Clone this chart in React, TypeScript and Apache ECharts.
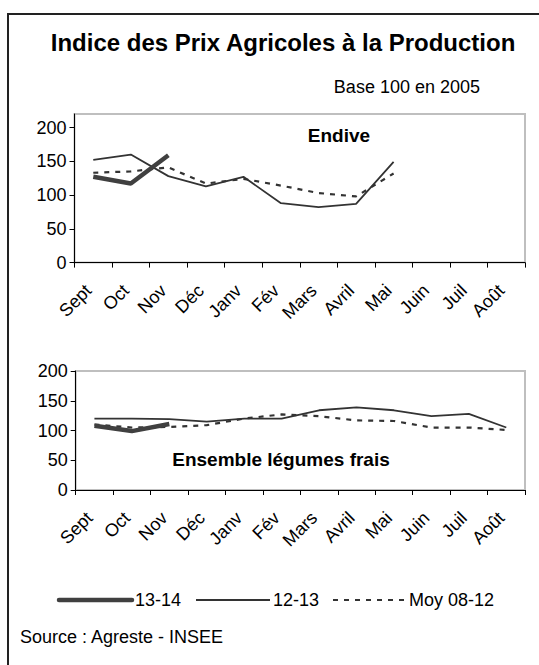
import React, { useEffect, useRef } from "react";
import * as echarts from "echarts";

const months = ["Sept", "Oct", "Nov", "Déc", "Janv", "Fév", "Mars", "Avril", "Mai", "Juin", "Juil", "Août"];
const seriesNames = ["13-14", "12-13", "Moy 08-12"];

const endive1314 = [127, 117, 159, null, null, null, null, null, null, null, null, null];
const endive1213 = [152, 160, 128, 113, 127, 88, 82, 87, 149, null, null, null];
const endiveMoy = [133, 135, 141, 117, 124, 114, 103, 98, 132, null, null, null];

const legumes1314 = [108, 99, 111, null, null, null, null, null, null, null, null, null];
const legumes1213 = [120, 120, 119, 115, 120, 120, 134, 139, 134, 124, 128, 105];
const legumesMoy = [110, 105, 106, 109, 120, 127, 124, 117, 116, 105, 105, 101];

const yTicks = [0, 50, 100, 150, 200];

const FONT = "'Liberation Sans', Arial, sans-serif";

export default function App() {
  const ref = useRef<HTMLDivElement>(null);
  useEffect(() => {
    if (!ref.current) return;
    const chart = echarts.init(ref.current, null, { renderer: "svg" });
    const dark = "#333333";
    const xAxisCommon = {
      type: "category",
      data: months,
      boundaryGap: true,
      axisLine: { lineStyle: { color: "#000", width: 1 } },
      axisTick: { show: true, length: 5, lineStyle: { color: "#000" } },
      axisLabel: { rotate: 45, fontSize: 18, color: "#000", fontFamily: FONT, margin: 20, padding: [0, 7, 0, 0], interval: 0 },
    };
    const yAxisCommon = {
      type: "value",
      min: 0,
      interval: 50,
      splitLine: { show: false },
      axisLine: { show: true, lineStyle: { color: "#000", width: 1 } },
      axisTick: { show: true, length: 5, lineStyle: { color: "#000" }, customValues: yTicks },
      axisLabel: { fontSize: 18, color: "#000", fontFamily: FONT, margin: 8, customValues: yTicks, formatter: (v: number) => (v > 200 ? "" : String(v)) },
    };
    const mk = (name: string, data: any[], idx: number) => {
      const base: any = { name, type: "line", data, xAxisIndex: idx, yAxisIndex: idx, symbol: "none", showSymbol: false, connectNulls: false };
      if (name === "13-14") base.lineStyle = { color: "#404040", width: 4.5 };
      else if (name === "12-13") base.lineStyle = { color: dark, width: 1.8 };
      else base.lineStyle = { color: dark, width: 2.2, type: [5, 6] };
      base.z = name === "13-14" ? 5 : name === "12-13" ? 4 : 3;
      return base;
    };
    const legY = 600;
    const txt = (text: string, x: number, y: number, size: number, bold: boolean, align: string) => ({
      type: "text",
      x,
      y,
      style: {
        text,
        fill: "#000",
        fontSize: size,
        fontWeight: bold ? "bold" : "normal",
        fontFamily: FONT,
        align,
        verticalAlign: "middle",
        textAlign: align,
        textVerticalAlign: "middle",
      },
    });
    chart.setOption({
      animation: false,
      textStyle: { fontFamily: FONT },
      grid: [
        { left: 74.5, top: 114, width: 450.5, height: 148.6, show: true, borderColor: "#bfbfbf", borderWidth: 2, backgroundColor: "transparent" },
        { left: 75.7, top: 371, width: 449.3, height: 119, show: true, borderColor: "#bfbfbf", borderWidth: 2, backgroundColor: "transparent" },
      ],
      xAxis: [
        { ...xAxisCommon, gridIndex: 0 },
        { ...xAxisCommon, gridIndex: 1 },
      ],
      yAxis: [
        { ...yAxisCommon, gridIndex: 0, max: 220 },
        { ...yAxisCommon, gridIndex: 1, max: 200 },
      ],
      series: [
        mk(seriesNames[2], endiveMoy, 0),
        mk(seriesNames[1], endive1213, 0),
        mk(seriesNames[0], endive1314, 0),
        mk(seriesNames[2], legumesMoy, 1),
        mk(seriesNames[1], legumes1213, 1),
        mk(seriesNames[0], legumes1314, 1),
      ],
      graphic: [
        { type: "rect", shape: { x: 8, y: 14, width: 800, height: 900 }, style: { fill: "none", stroke: "#222", lineWidth: 2 }, silent: true },
        txt("Indice des Prix Agricoles à la Production", 283, 42, 24, true, "center"),
        txt("Base 100 en 2005", 480, 87, 18, false, "right"),
        txt("Endive", 339, 135, 19, true, "center"),
        txt("Ensemble légumes frais", 281, 459, 19, true, "center"),
        { type: "line", shape: { x1: 59, y1: legY, x2: 132, y2: legY }, style: { stroke: "#404040", lineWidth: 4.5, lineCap: "round" } },
        txt(seriesNames[0], 135, legY, 18, false, "left"),
        { type: "line", shape: { x1: 196, y1: legY, x2: 270, y2: legY }, style: { stroke: dark, lineWidth: 1.8 } },
        txt(seriesNames[1], 273, legY, 18, false, "left"),
        { type: "line", shape: { x1: 333, y1: legY, x2: 406, y2: legY }, style: { stroke: dark, lineWidth: 2.2, lineDash: [5, 6] } },
        txt(seriesNames[2], 409, legY, 18, false, "left"),
        txt("Source : Agreste - INSEE", 20, 637, 18, false, "left"),
      ],
    });
    return () => chart.dispose();
  }, []);
  return <div ref={ref} style={{ position: "absolute", left: 0, top: 0, width: 539, height: 665 }} />;
}
